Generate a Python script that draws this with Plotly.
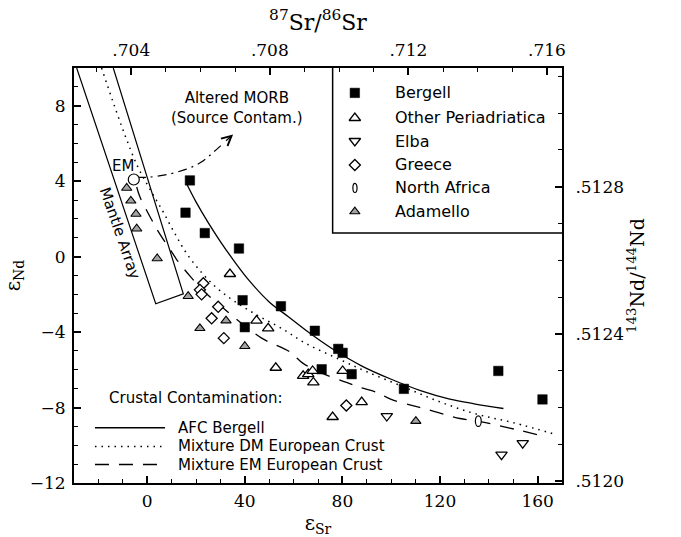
import plotly.graph_objects as go

# ---------------- data (eSr, eNd) ----------------
bergell_x = [17.5, 15.7, 23.6, 37.6, 39.1, 54.8, 40.0, 68.7, 78.3, 80.1, 71.5, 83.8, 105.2, 143.9, 162.0]
bergell_y = [4.04, 2.33, 1.25, 0.43, -2.31, -2.63, -3.74, -3.93, -4.89, -5.10, -5.97, -6.23, -7.01, -6.06, -7.57]

other_x = [33.9, 44.8, 49.6, 52.7, 63.9, 66.0, 67.8, 68.1, 80.1, 76.0, 87.9]
other_y = [-0.92, -3.39, -3.80, -5.89, -6.32, -6.23, -6.06, -6.67, -6.06, -8.50, -7.71]

elba_x = [98.2, 145.2, 153.9]
elba_y = [-8.45, -10.5, -9.89]

greece_x = [23.0, 21.6, 22.3, 29.1, 26.4, 31.4, 81.6]
greece_y = [-1.41, -1.76, -2.0, -2.66, -3.27, -4.32, -7.89]

nafrica_x = [135.7]
nafrica_y = [-8.72]

adamello_x = [-8.4, -6.7, -4.6, -4.3, 4.1, 16.8, 21.6, 32.3, 40.0, 110.1]
adamello_y = [3.64, 2.96, 2.26, 1.48, -0.10, -2.10, -3.80, -3.39, -4.75, -8.72]

em_x = [-5.5]
em_y = [4.09]

# model curves
afc_x = [16, 20, 25, 30, 36, 42, 50, 58, 66, 76, 88, 100, 112, 124, 134, 146]
afc_y = [3.9, 2.9, 1.8, 0.8, -0.3, -1.3, -2.4, -3.2, -4.0, -4.9, -5.8, -6.5, -7.1, -7.55, -7.8, -8.05]

dm_x = [-18.7, -14, -9, -4, 1, 6, 11, 16, 22, 28, 35, 45, 55, 65, 78, 90, 105, 120, 135, 150, 168]
dm_y = [10, 8.2, 6.4, 4.8, 3.6, 2.5, 1.3, 0.2, -0.8, -1.6, -2.3, -3.1, -3.8, -4.6, -5.4, -6.1, -6.9, -7.7, -8.35, -8.8, -9.45]

emm_x = [-4.3, -3, 1.1, 4.5, 10.7, 12, 18, 24.3, 29.1, 34.6, 46.9, 58.5, 63.9, 72, 81.7, 87.2, 94, 99.5,
         108.4, 113.8, 120.7, 128.2, 137, 143.2, 152, 160.2]
emm_y = [3.69, 3.17, 2.13, 1.34, 0.12, -0.14, -1.1, -1.97, -2.49, -3.1, -4.32, -5.05, -5.66, -6.2, -6.67,
         -6.93, -7.19, -7.54, -7.89, -8.06, -8.32, -8.58, -8.76, -8.93, -9.19, -9.45]

# mantle array band outline
mantle_x = [-13.9, 14.8, 3.5, -28.9]
mantle_y = [10.0, -1.97, -2.5, 10.0]

# source contamination arrow path
morb_x = [-4.3, 0.4, 8, 16.1, 22, 27.0, 31.5]
morb_y = [4.2, 4.21, 4.35, 4.64, 5.0, 5.52, 6.05]

# axis ticks
x_ticks = [0, 40, 80, 120, 160]
y_ticks = [-12, -8, -4, 0, 4, 8]
sr_ticks = [0.704, 0.708, 0.712, 0.716]
sr_labels = [".704", ".708", ".712", ".716"]
nd_ticks = [0.5120, 0.5124, 0.5128]
nd_labels = [".5120", ".5124", ".5128"]

SR0 = 0.70446
ND0 = 0.51261
XR = [-30, 170]
YR = [-12, 10]
x2r = [SR0 * (1 + v / 1e4) for v in XR]
y2r = [ND0 * (1 + v / 1e4) for v in YR]

SANS = "DejaVu Sans"
SERIF = "DejaVu Serif"
BLK = "black"

fig = go.Figure()

# mantle array
fig.add_trace(go.Scatter(x=mantle_x, y=mantle_y, mode="lines", line=dict(color=BLK, width=1.2),
                         showlegend=False, hoverinfo="skip"))
# curves
fig.add_trace(go.Scatter(x=afc_x, y=afc_y, mode="lines", line=dict(color=BLK, width=1.3, shape="spline"),
                         showlegend=False, hoverinfo="skip"))
fig.add_trace(go.Scatter(x=dm_x, y=dm_y, mode="lines", line=dict(color=BLK, width=1.5, dash="1.5px,5px", shape="spline"),
                         showlegend=False, hoverinfo="skip"))
fig.add_trace(go.Scatter(x=emm_x, y=emm_y, mode="lines", line=dict(color=BLK, width=1.3, dash="14px,10px", shape="spline"),
                         showlegend=False, hoverinfo="skip"))
fig.add_trace(go.Scatter(x=morb_x, y=morb_y, mode="lines", line=dict(color=BLK, width=1.2, dash="9px,5px,2px,5px", shape="spline"),
                         showlegend=False, hoverinfo="skip"))

def pts(x, y, symbol, size, fill, lw=1.3):
    fig.add_trace(go.Scatter(x=x, y=y, mode="markers", showlegend=False, hoverinfo="skip",
                             marker=dict(symbol=symbol, size=size, color=fill,
                                         line=dict(color=BLK, width=lw))))

pts(bergell_x, bergell_y, "square", 9.5, BLK, 0.5)
pts(other_x, other_y, "triangle-up", 10, "white")
pts(elba_x, elba_y, "triangle-down", 10, "white")
pts(greece_x, greece_y, "diamond", 8.5, "white")
pts(adamello_x, adamello_y, "triangle-up", 9, "#a3a3a3", 1.1)
pts(em_x, em_y, "circle", 11, "white", 1.2)

# North Africa ellipses
shapes = []
for xv, yv in zip(nafrica_x, nafrica_y):
    shapes.append(dict(type="circle", xref="x", yref="y", x0=xv - 1.2, x1=xv + 1.2, y0=yv - 0.28, y1=yv + 0.28,
                       line=dict(color=BLK, width=1.2), fillcolor="white"))

# legend frame
shapes.append(dict(type="path", xref="x", yref="y", path="M 76,10 L 76,1.25 L 170,1.25",
                   line=dict(color=BLK, width=1.5)))
# crustal contamination legend lines
leg_line_y = [-9.07, -10.06, -11.02]
leg_dash = ["solid", "1.5px,5px", "14px,10px"]
for yv, d in zip(leg_line_y, leg_dash):
    shapes.append(dict(type="line", xref="x", yref="y", x0=-21.4, x1=7.3, y0=yv, y1=yv,
                       line=dict(color=BLK, width=1.3 if d != "1.5px,5px" else 1.5, dash=d)))
# legend NA symbol
shapes.append(dict(type="circle", xref="x", yref="y", x0=84.3, x1=86.0, y0=3.64 - 0.24, y1=3.64 + 0.24,
                   line=dict(color=BLK, width=1.2)))

# legend markers
leg_rows = [8.68, 7.35, 6.13, 4.86, 3.64, 2.39]
leg_names = ["Bergell", "Other Periadriatica", "Elba", "Greece", "North Africa", "Adamello"]
leg_syms = [("square", 9.5, BLK, 0.5), ("triangle-up", 10, "white", 1.3), ("triangle-down", 10, "white", 1.3),
            ("diamond", 8.5, "white", 1.3), None, ("triangle-up", 9, "#a3a3a3", 1.1)]
for yv, s in zip(leg_rows, leg_syms):
    if s is None:
        continue
    fig.add_trace(go.Scatter(x=[85.1], y=[yv], mode="markers", showlegend=False, hoverinfo="skip",
                             marker=dict(symbol=s[0], size=s[1], color=s[2], line=dict(color=BLK, width=s[3]))))

ann = []
for yv, n in zip(leg_rows, leg_names):
    ann.append(dict(x=100.8, y=yv, xref="x", yref="y", text=n, showarrow=False, xanchor="left", yanchor="middle",
                    font=dict(family=SANS, size=16, color=BLK)))
ann.append(dict(x=-16.6, y=-7.5, xref="x", yref="y", text="Crustal Contamination:", showarrow=False,
                xanchor="left", yanchor="middle", font=dict(family=SANS, size=15, color=BLK)))
for yv, n in zip(leg_line_y, ["AFC Bergell", "Mixture DM European Crust", "Mixture EM European Crust"]):
    ann.append(dict(x=11.8, y=yv, xref="x", yref="y", text=n, showarrow=False, xanchor="left", yanchor="middle",
                    font=dict(family=SANS, size=15, color=BLK)))
ann.append(dict(x=36.6, y=7.87, xref="x", yref="y", text="Altered MORB<br>(Source Contam.)", showarrow=False,
                xanchor="center", yanchor="middle", font=dict(family=SANS, size=15, color=BLK)))
ann.append(dict(x=-9.8, y=4.82, xref="x", yref="y", text="EM", showarrow=False,
                font=dict(family=SANS, size=15, color=BLK)))
ann.append(dict(x=-11.2, y=1.25, xref="x", yref="y", text="Mantle Array", showarrow=False, textangle=71,
                font=dict(family=SANS, size=15, color=BLK)))
ann.append(dict(x=35.2, y=6.48, xref="x", yref="y", ax=31.5, ay=6.05, axref="x", ayref="y", text=" ",
                showarrow=True, arrowhead=5, arrowsize=1.6, arrowwidth=1.2, arrowcolor=BLK,
                font=dict(size=2)))

# invisible trace for secondary axes
fig.add_trace(go.Scatter(x=x2r, y=y2r, xaxis="x2", yaxis="y2", mode="markers", marker=dict(opacity=0),
                         showlegend=False, hoverinfo="skip"))

tickfont = dict(family=SERIF, size=17, color=BLK)
common = dict(showgrid=False, zeroline=False, showline=True, linecolor=BLK, linewidth=2,
              ticks="inside", ticklen=7, tickwidth=1.5, tickcolor=BLK, tickfont=tickfont)

fig.update_layout(
    width=681, height=537,
    margin=dict(l=74, r=119, t=68, b=49),
    paper_bgcolor="white", plot_bgcolor="white",
    showlegend=False,
    shapes=shapes, annotations=ann,
    xaxis=dict(range=XR, tickmode="array", tickvals=x_ticks, mirror=False,
               minor=dict(dtick=10, tick0=0, ticks="inside", ticklen=4, tickwidth=1.2, tickcolor=BLK),
               title=dict(text="ε<sub>Sr</sub>", font=dict(family=SERIF, size=20, color=BLK), standoff=0),
               ticklabelstandoff=2, **common),
    yaxis=dict(range=YR, tickmode="array", tickvals=y_ticks, mirror=False,
               minor=dict(dtick=1, tick0=0, ticks="inside", ticklen=4, tickwidth=1.2, tickcolor=BLK),
               title=dict(text="ε<sub>Nd</sub>", font=dict(family=SERIF, size=20, color=BLK), standoff=4),
               ticklabelstandoff=3, **common),
    xaxis2=dict(range=x2r, overlaying="x", side="top", anchor="y", tickmode="array",
                tickvals=sr_ticks, ticktext=sr_labels,
                minor=dict(dtick=0.001, tick0=0.704, ticks="inside", ticklen=4, tickwidth=1.2, tickcolor=BLK),
                title=dict(text="<sup>87</sup>Sr/<sup>86</sup>Sr", font=dict(family=SERIF, size=22, color=BLK), standoff=4),
                ticklabelstandoff=3, **common),
    yaxis2=dict(range=y2r, overlaying="y", side="right", anchor="x", tickmode="array",
                tickvals=nd_ticks, ticktext=nd_labels,
                minor=dict(dtick=0.0001, tick0=0.512, ticks="inside", ticklen=4, tickwidth=1.2, tickcolor=BLK),
                title=dict(text="<sup>143</sup>Nd/<sup>144</sup>Nd", font=dict(family=SERIF, size=19, color=BLK), standoff=8),
                ticklabelstandoff=8, **common),
)

fig.write_html("out.html")
